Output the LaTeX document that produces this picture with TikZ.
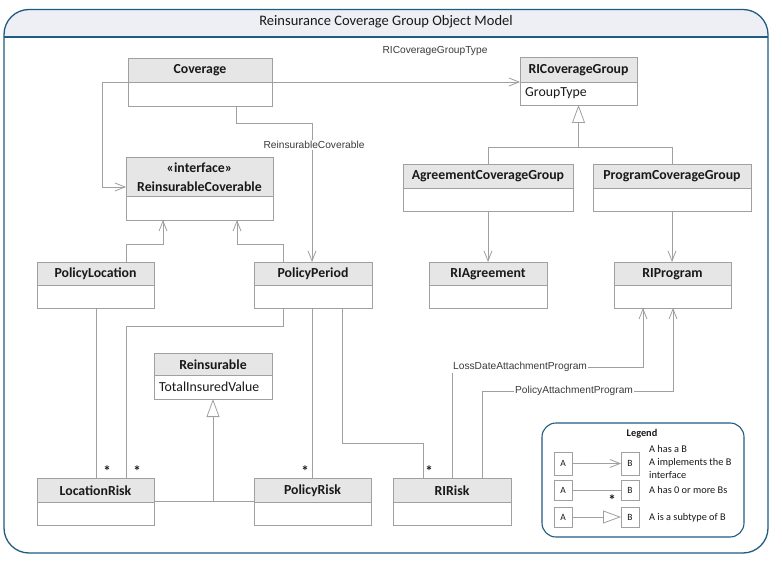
\documentclass[tikz,border=0pt]{standalone}
\usepackage{fontspec}
\setmainfont{Carlito}
\newfontfamily\labfont{Liberation Sans}
\usetikzlibrary{arrows.meta}
\definecolor{framec}{RGB}{31,92,128}
\definecolor{titlefill}{RGB}{238,238,245}
\definecolor{hdrfill}{RGB}{230,230,230}
\definecolor{linec}{RGB}{160,160,160}
\definecolor{txtc}{RGB}{25,25,25}
\tikzset{
  boxframe/.style={draw=linec, line width=0.8pt, inner sep=0pt, outer sep=0pt, rectangle},
  titletext/.style={inner sep=0pt, text=txtc, font=\fontsize{13.8}{16}\selectfont\bfseries},
  attrtext/.style={inner sep=0pt, text=txtc, font=\fontsize{13.8}{16}\selectfont},
  conn/.style={draw=linec, line width=0.8pt},
  oarrow/.tip={Straight Barb[length=10pt,width=8pt,line width=0.8pt]},
  otri/.tip={Triangle[open,length=18pt,width=13pt,fill=white,line width=0.8pt]},
  clabel/.style={inner sep=1pt, fill=white, text=txtc!85, font=\labfont\fontsize{10.2}{12}\selectfont},
  starmark/.style={inner sep=0pt, text=txtc, font=\fontsize{15}{15}\selectfont\bfseries, anchor=base},
  legtext/.style={inner sep=0pt, anchor=west, text=txtc, font=\fontsize{10.3}{12}\selectfont},
  smallbox/.style={draw=linec, line width=0.7pt, inner sep=0pt, outer sep=0pt, text=txtc, font=\fontsize{9.5}{11}\selectfont},
}
% #1 name, #2 x1, #3 y1, #4 x2, #5 y2, #6 header bottom, #7 title, #8 attribute
\newcommand\umlbox[8]{%
  \fill[hdrfill] (#2,#3) rectangle (#4,#6);
  \node[boxframe, minimum width={#4-#2}, minimum height={#5-#3}, anchor=north west] (#1) at (#2,#3) {};
  \draw[draw=linec, line width=0.8pt] (#2,#6) -- (#4,#6);
  \node[titletext, align=center] (#1-t) at ({(#2+#4)/2},{(#3+#6)/2+0.5}) {#7};
  \node[attrtext, anchor=west] (#1-a) at ({#2+5},{(#6+#5)/2}) {#8};
}
\begin{document}
\begin{tikzpicture}[x=1pt,y=-1pt]
\useasboundingbox (0,0) rectangle (782,564);
\fill[white] (0,0) rectangle (782,564);
% frame
\begin{scope}
  \clip[rounded corners=25pt] (4,9.5) rectangle (768,553);
  \fill[titlefill] (0,0) rectangle (782,37);
\end{scope}
\draw[framec, line width=1.3pt, rounded corners=25pt] (4,9.5) rectangle (768,553);
\draw[framec, line width=1.3pt] (4,37) -- (768,37);
\node[inner sep=0pt, text=txtc, font=\fontsize{14.5}{17}\selectfont] (title) at (386,22) {Reinsurance Coverage Group Object Model};

% boxes
\umlbox{cov}{128}{58}{272}{106}{82}{Coverage}{}
\umlbox{rc}{126}{157}{273}{220}{196}{\rule{0pt}{0pt}}{}
\node[titletext, align=center] (rc-t1) at (199.5,168) {«interface»};
\node[titletext, align=center] (rc-t2) at (199.5,187) {ReinsurableCoverable};
\umlbox{ricg}{520}{57}{637}{105}{82}{RICoverageGroup}{GroupType}
\umlbox{ag}{403}{164}{573}{211}{188}{AgreementCoverageGroup}{}
\umlbox{pg}{593}{164}{751}{211}{188}{ProgramCoverageGroup}{}
\umlbox{ria}{429}{262}{547}{308}{285}{RIAgreement}{}
\umlbox{rip}{614}{262}{731}{308}{285}{RIProgram}{}
\umlbox{pl}{37}{262}{154}{308}{285}{PolicyLocation}{}
\umlbox{pp}{254}{262}{372}{308}{285}{PolicyPeriod}{}
\umlbox{rein}{154}{353}{272}{399}{375}{Reinsurable}{TotalInsuredValue}
\umlbox{lr}{37}{478}{154}{525}{502}{LocationRisk}{}
\umlbox{pr}{254}{478}{371}{525}{502}{PolicyRisk}{}
\umlbox{rr}{393}{478}{511}{525}{502}{RIRisk}{}

% Coverage -> RICoverageGroup
\draw[conn,-{oarrow}] (cov.east) -- (cov.east -| ricg.west);
\node[clabel] (l1) at (435,51) {RICoverageGroupType};
% Coverage -> ReinsurableCoverable
\draw[conn,-{oarrow}] (cov.west) -- (102,0 |- cov.west) |- (rc.west |- 0,187);
% Coverage -> PolicyPeriod
\draw[conn,-{oarrow}] (236,0 |- cov.south) |- (312,123) -- (312,0 |- pp.north);
\node[clabel] (l2) at (314,145) {ReinsurableCoverable};
% generalization to RICoverageGroup
\draw[conn] (ag.north) -- (ag.north |- 0,147) -- (pg.north |- 0,147) -- (pg.north);
\draw[conn,-{otri}] (ricg.south |- 0,147) -- (ricg.south);
% AG -> RIAgreement, PG -> RIProgram
\draw[conn,-{oarrow}] (ag.south) -- (ag.south |- ria.north);
\draw[conn,-{oarrow}] (pg.south) -- (pg.south |- rip.north);
% PolicyLocation / PolicyPeriod -> ReinsurableCoverable
\draw[conn,-{oarrow}] (126,0 |- pl.north) |- (163,244) -- (163,0 |- rc.south);
\draw[conn,-{oarrow}] (283,0 |- pp.north) |- (237,244) -- (237,0 |- rc.south);
% associations to risks
\draw[conn] (96,0 |- pl.south) -- (96,0 |- lr.north);
\node[starmark] (s1) at (107,476) {*};
\draw[conn] (283,0 |- pp.south) |- (126,326) -- (126,0 |- lr.north);
\node[starmark] (s2) at (137,476) {*};
\draw[conn] (312,0 |- pp.south) -- (312,0 |- pr.north);
\node[starmark] (s3) at (305,476) {*};
\draw[conn] (342,0 |- pp.south) |- (423,443) -- (423,0 |- rr.north);
\node[starmark] (s4) at (429,476) {*};
% Reinsurable generalization
\draw[conn] (lr.east) -- (lr.east -| pr.west);
\draw[conn,-{otri}] (rein.south |- lr.east) -- (rein.south);
% RIRisk -> RIProgram
\draw[conn,-{oarrow}] (452,0 |- rr.north) |- (643,367) -- (643,0 |- rip.south);
\node[clabel, anchor=west] (l3) at (452,367) {LossDateAttachmentProgram};
\draw[conn,-{oarrow}] (482,0 |- rr.north) |- (673,391) -- (673,0 |- rip.south);
\node[clabel] (l4) at (574,391) {PolicyAttachmentProgram};

% legend
\draw[framec, line width=1.1pt, rounded corners=14pt] (542,423) rectangle (744,537);
\node[inner sep=0pt, text=txtc, font=\fontsize{10.3}{12}\selectfont\bfseries] (legt) at (642,434) {Legend};
\node[smallbox, minimum width=18pt, minimum height=23pt] (a1) at (563,463.5) {A};
\node[smallbox, minimum width=18pt, minimum height=23pt] (b1) at (630,463.5) {B};
\node[smallbox, minimum width=18pt, minimum height=20pt] (a2) at (563,490) {A};
\node[smallbox, minimum width=18pt, minimum height=20pt] (b2) at (630,490) {B};
\node[smallbox, minimum width=18pt, minimum height=20pt] (a3) at (563,517) {A};
\node[smallbox, minimum width=18pt, minimum height=20pt] (b3) at (630,517) {B};
\draw[conn,-{oarrow}] (a1) -- (b1);
\draw[conn] (a2) -- (b2);
\node[starmark] (s5) at (612,505) {*};
\draw[conn,-{otri}] (a3) -- (b3);
\node[legtext] (t1) at (649,449) {A has a B};
\node[legtext] (t2) at (649,463) {A implements the B};
\node[legtext] (t3) at (649,475) {interface};
\node[legtext] (t4) at (649,490) {A has 0 or more Bs};
\node[legtext] (t5) at (649,518) {A is a subtype of B};
\end{tikzpicture}
\end{document}
